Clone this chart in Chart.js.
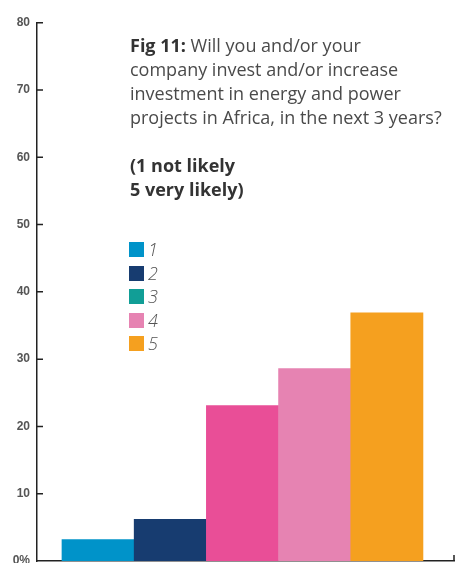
<!DOCTYPE html>
<html>
<head>
<meta charset="utf-8">
<script src="https://cdn.jsdelivr.net/npm/chart.js@4/dist/chart.umd.min.js"></script>
<style>
  html, body { margin: 0; padding: 0; background: #fff; }
  #wrap { position: relative; width: 462px; height: 563px; }
  #title {
    position: absolute; left: 130px; top: 33px; width: 330px;
    font-family: "Open Sans", sans-serif; font-size: 18px; line-height: 24px;
    color: #4a4a4a; letter-spacing: 0;
  }
  #title b { color: #333; }
  #legend { position: absolute; left: 129px; top: 242px; }
  .item { height: 23.5px; display: flex; align-items: flex-start; }
  .sw { width: 15px; height: 15px; margin-right: 4px; }
  .lb { font-family: "Open Sans", sans-serif; font-style: italic; font-weight: 300;
        font-size: 18px; line-height: 15px; color: #555; }
</style>
</head>
<body>
<div id="wrap">
  <canvas id="MyChart"></canvas>
  <div id="title">
    <b>Fig 11:</b> Will you and/or your<br>company invest and/or increase<br>investment in energy and power<br>projects in Africa, in the next 3 years?<br><br>
    <b>(1 not likely<br>5 very likely)</b>
  </div>
  <div id="legend"></div>
</div>
<script>
const categories = ['1', '2', '3', '4', '5'];
const values = [3.2, 6.2, 23.1, 28.6, 36.9];
const barColors = ['#0093c9', '#173c70', '#e94e97', '#e683b2', '#f5a01f'];
const legendColors = ['#0093c9', '#173c70', '#119e96', '#e683b2', '#f5a01f'];
const tickLabels = ['0%', '10', '20', '30', '40', '50', '60', '70', '80'];

// legend (colours differ from the bars, as in the original figure)
const legendEl = document.getElementById('legend');
categories.forEach((c, i) => {
    const row = document.createElement('div');
    row.className = 'item';
    row.innerHTML = '<div class="sw" style="background:' + legendColors[i] + '"></div><span class="lb">' + c + '</span>';
    legendEl.appendChild(row);
});

const axisMarks = {
    id: 'axisMarks',
    afterDraw(chart) {
        const ctx = chart.ctx;
        const y = chart.scales.y, x = chart.scales.x;
        ctx.save();
        ctx.strokeStyle = '#222';
        ctx.lineWidth = 1.5;
        ctx.beginPath();
        y.ticks.forEach(t => {
            if (t.value === 0) return;
            const py = y.getPixelForValue(t.value);
            ctx.moveTo(x.left, py);
            ctx.lineTo(x.left + 6, py);
        });
        ctx.moveTo(x.right, y.bottom);
        ctx.lineTo(x.right, y.bottom - 6);
        ctx.stroke();
        ctx.restore();
    }
};

const canvas = document.getElementById('MyChart');
canvas.width = 462; canvas.height = 563;

new Chart(canvas.getContext('2d'), {
    type: 'bar',
    data: {
        datasets: [{
            label: 'answers',
            data: categories.map((c, i) => ({ x: i + 1, y: values[i] })),
            backgroundColor: barColors,
            borderWidth: 0,
            barPercentage: 1,
            categoryPercentage: 1
        }]
    },
    options: {
        responsive: false,
        animation: false,
        layout: { padding: { top: 22.7, right: 8, bottom: 2, left: 0 } },
        plugins: { legend: { display: false }, tooltip: { enabled: false } },
        scales: {
            x: {
                type: 'linear',
                offset: false,
                min: 0.154,
                max: 5.93,
                grid: { display: false, drawTicks: false, offset: false },
                border: { display: true, color: '#222', width: 1.5 },
                ticks: { display: false },
                afterBuildTicks: (s) => { s.ticks = categories.map((c, i) => ({ value: i + 1 })); },
                afterFit: (s) => { s.height = 0; s.paddingLeft = 0; s.paddingRight = 0; }
            },
            y: {
                min: 0,
                max: 80,
                grid: { display: false, drawTicks: false },
                border: { display: true, color: '#222', width: 1.5 },
                ticks: {
                    stepSize: 10,
                    padding: 7,
                    color: '#555',
                    font: { family: 'Liberation Sans', size: 12, weight: 'bold' },
                    callback: (v) => tickLabels[v / 10]
                },
                afterFit: (s) => { s.width = 37; s.paddingTop = 0; s.paddingBottom = 0; }
            }
        }
    },
    plugins: [axisMarks]
});
</script>
</body>
</html>
